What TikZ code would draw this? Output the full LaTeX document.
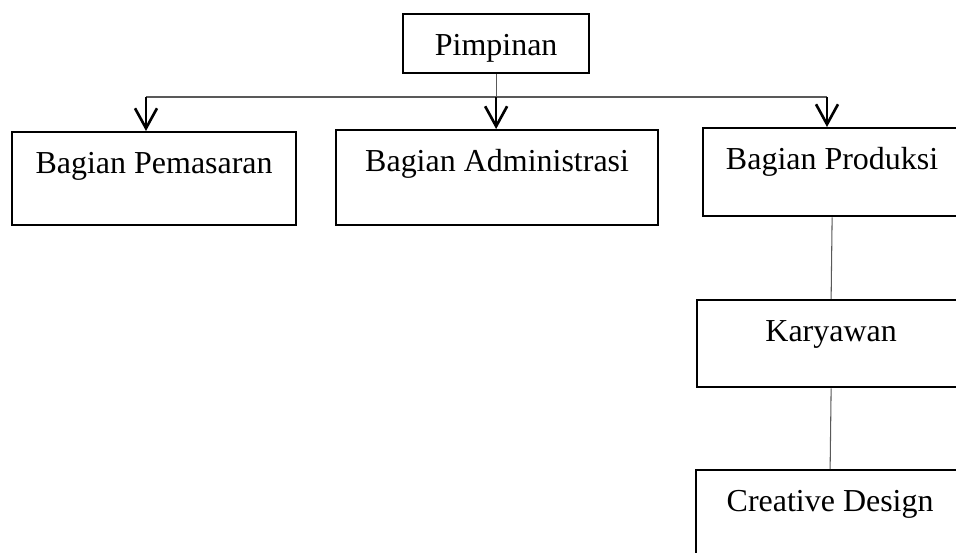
\documentclass[tikz,border=0pt]{standalone}
\usepackage{fontspec}
\setmainfont{Liberation Serif}
\usetikzlibrary{arrows.meta}
\begin{document}
\begin{tikzpicture}[
  x = 0.02cm, y = -0.02cm,
  unit/.style={draw, line width=1.3pt, inner xsep=0pt, inner ysep=0pt,
    anchor=north west, text height=.82cm, font=\fontsize{18.2}{21}\selectfont},
  bus/.style={draw=black!65, line width=.6pt},
  drop/.style={line width=1.5pt, -{Straight Barb[length=.4cm, width=.44cm]}}
]
%page
\clip (0,0) rectangle (956,553);

%top
\node[unit, minimum width=3.72cm, text depth=.36cm] (pimpinan) at (402,13) {Pimpinan};

%bagian
\node[unit, minimum width=5.68cm, text depth=1.04cm] (pemasaran) at (11,131) {Bagian Pemasaran};
\node[unit, minimum width=6.44cm, text depth=1.08cm] (admin) at (335,129) {Bagian Administrasi};
\node[unit, minimum width=5.16cm, text depth=.94cm] (produksi) at (702,127) {Bagian Produksi};

%produksi
\node[unit, minimum width=5.36cm, text depth=.92cm] (karyawan) at (696,299) {Karyawan};
\node[unit, minimum width=5.36cm, text depth=.92cm] (creative) at (695,469) {Creative Design};

%bus
\coordinate (busL) at (146,97);
\coordinate (busR) at (827,97);
\coordinate (busM) at (pimpinan.south |- busL);
\draw[bus] (pimpinan.south) -- (busM);
\draw[bus] (busL) -- (busR);

%arrows
\draw[drop] (busL) -- (busL |- pemasaran.north);
\draw[drop] (busM) -- (busM |- admin.north);
\draw[drop] (busR) -- (busR |- produksi.north);

%lines
\draw[bus] (produksi.south) -- (karyawan.north);
\draw[bus] (karyawan.south) -- (creative.north);

\end{tikzpicture}
\end{document}
